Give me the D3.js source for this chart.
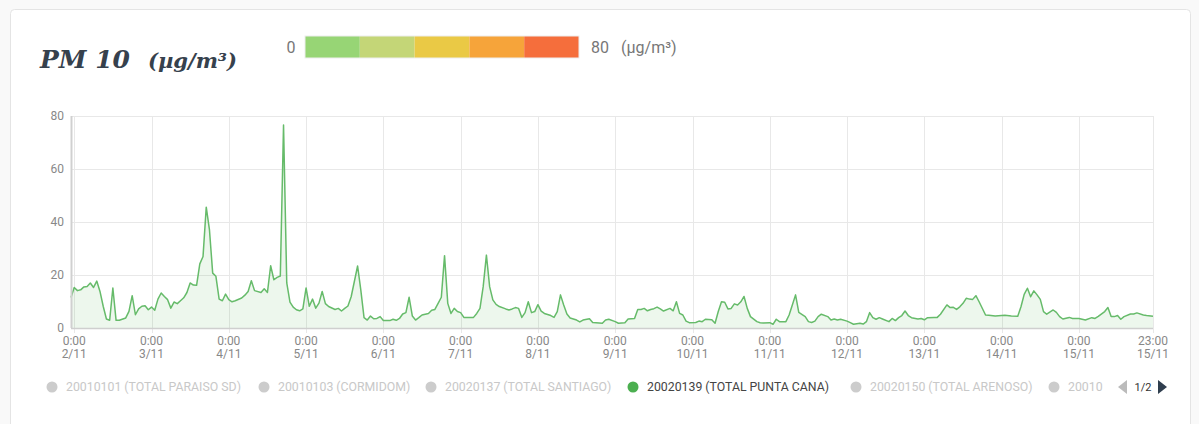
<!DOCTYPE html>
<html>
<head>
<meta charset="utf-8">
<script src="https://cdn.jsdelivr.net/npm/d3@7"></script>
<style>
  body { margin: 0; background: #f9f9f9; font-family: Roboto, "Noto Sans", sans-serif; }
  svg { display: block; }
</style>
</head>
<body>
<script>
// hours counted from 2/11 0:00, hourly PM10 readings of the selected station
var hours = [-1,0,1,2,3,4,5,6,7,8,9,10,11,12,13,14,16,17,18,19,20,21,22,23,24,25,26,27,28,29,30,31,32,33,34,35,36,37,38,39,40,41,42,43,44,45,46,47,48,49,50,52,53,54,55,56,58,59,60,61,62,63,64,65,66,67,68,69,70,71,72,73,74,75,76,77,78,79,81,82,83,84,85,86,88,89,90,91,92,93,94,95,96,98,99,100,101,102,103,104,105,106,107,108,110,111,112,113,114,115,116,117,118,119,120,121,122,124,125,126,127,128,129,130,131,132,134,135,136,137,138,139,140,141,142,143,144,145,146,148,149,150,151,152,153,154,156,157,158,160,161,162,164,165,166,168,169,171,172,174,175,176,177,178,179,180,181,182,183,185,186,187,188,189,190,191,193,194,195,196,198,199,200,201,202,203,204,205,206,207,208,209,210,212,213,214,216,217,218,219,221,222,223,224,225,227,228,229,230,231,232,234,235,236,237,238,240,241,242,244,245,246,247,248,249,250,251,253,254,255,256,257,258,259,260,262,263,264,265,267,268,269,271,272,273,274,275,276,277,278,279,280,281,283,284,286,289,291,293,294,295,296,297,298,299,300,301,302,304,305,306,307,309,310,312,313,314,316,317,318,320,321,322,323,324,325,326,328,329,330,332,333,335];
var pm10 = [11.5,15.3,14.1,14.4,15.5,15.7,17,15.3,17.7,13.8,8.2,3.4,2.9,15.1,2.9,2.9,3.8,6.3,12.2,5,7.2,8.2,8.4,6.9,7.9,6.7,10.9,13.2,11.9,10.7,7.5,9.8,9.2,10.3,11.4,13.4,17,16.2,16.1,24.2,27,45.6,37,20.7,19.5,10.9,10.3,12.8,10.7,9.9,10.3,11.3,12.4,13.8,17.8,14.1,13.4,14.8,13.4,23.5,18.2,19.1,19.6,76.6,17,9.8,7.9,6.9,6.5,7.2,15.1,8.2,10.9,7.5,9.4,13.8,9.2,8.1,7,7.4,6.4,7.4,8.3,11.8,23.4,14.3,3.9,3,4.5,3.5,3.6,4.3,2.8,2.8,3.3,2.9,3.6,5.3,5.8,11.6,4.5,3,3.9,4.9,5.5,6.7,7,9.3,11.6,27.3,9.3,5.5,7.4,6.2,5.8,4,4,4,5.5,7.4,15.6,27.5,15.6,10.6,8.9,8.1,7.2,6.8,7.2,7.7,7.4,4,5.8,9.9,5.8,6.2,8.8,6.4,5.5,4.7,4,6.2,12.5,8.7,5.3,3.8,3,2.3,3,3.5,2.1,2,1.8,3,3.3,2.4,1.8,2,3.4,3.6,7,7,7.4,6.5,7,7.3,7.9,7.2,6.4,7.4,6.5,9.9,5.5,4.9,2.6,2,2.1,2.6,2.4,3.3,3.1,1.8,6.2,9.9,9.7,7.2,7.4,9.1,8.7,9.9,11.9,7.4,4.3,2.4,2,1.9,2,1.4,3.3,2.4,2.4,4.9,8.7,12.5,5.9,4.3,2.4,2.1,2.6,4.3,5.2,4.3,3,3.4,3,3.3,2.6,2,1.4,1.8,1.5,2.4,5.8,3.9,3.3,3.9,3.4,2.4,3.6,2.8,3.9,4.7,6.4,4.7,3.9,3.4,3.6,3.1,3.9,4,4,5.2,8.7,7.7,7.8,7,8,9.3,11.2,10.9,10.8,12.2,9.9,4.9,4.8,4.5,4.8,4.5,4.4,8,12.7,15,11.8,14,12.5,10.8,6.2,5.2,6.8,5.9,4.3,3.4,4,3.6,3.6,3.3,3,3.9,3.6,4.4,6.2,7.7,4.3,4.3,4.7,3.3,4.3,5.3,5.3,5.7,4.9,4.7,4.4];

var yTicks = [0, 20, 40, 60, 80];
var scaleColors = ["#97d575", "#c4d677", "#eac945", "#f6a43a", "#f56e3c"];
var scaleLabels = ["0", "80", "(µg/m³)"];
var stations = ["20010101 (TOTAL PARAISO SD)", "20010103 (CORMIDOM)", "20020137 (TOTAL SANTIAGO)",
  "20020139 (TOTAL PUNTA CANA)", "20020150 (TOTAL ARENOSO)", "20010"];
var activeStation = 3;
var stationX = [52, 264, 431, 633, 856, 1054];

var W = 1199, H = 424;
var margin = {top: 116, left: 71, right: 46, bottom: 96};
var width = W - margin.left - margin.right,
    height = H - margin.top - margin.bottom;

var base = new Date(2019, 10, 2, 0, 0);
var data = hours.map(function(h, i) {
  return {t: d3.timeHour.offset(base, h), v: pm10[i]};
});

var svg = d3.select("body").append("svg")
  .attr("width", W)
  .attr("height", H);

// card
svg.append("rect")
  .attr("x", 10.5).attr("y", 9.5)
  .attr("width", 1180).attr("height", 440)
  .attr("rx", 4)
  .style("fill", "#fff")
  .style("stroke", "#e4e4e4");

// title
var title = svg.append("text")
  .attr("x", 40).attr("y", 68)
  .style("font-family", "'DejaVu Serif', serif")
  .style("font-weight", "bold")
  .style("font-style", "italic")
  .style("fill", "#36414d");
title.append("tspan").style("font-size", "25px").text("PM 10");
title.append("tspan").attr("dx", 18).style("font-size", "21px").text("(µg/m³)");

// colour scale
var seg = d3.scaleBand().domain(d3.range(scaleColors.length)).range([305, 579]);
svg.selectAll(".seg")
  .data(scaleColors)
  .enter().append("rect")
  .attr("class", "seg")
  .attr("x", function(d, i) { return seg(i); })
  .attr("y", 36)
  .attr("width", seg.bandwidth())
  .attr("height", 22)
  .style("fill", function(d) { return d; });
svg.append("rect")
  .attr("x", 305).attr("y", 36).attr("width", 274).attr("height", 22)
  .style("fill", "none").style("stroke", "#eeeeee");
svg.append("text")
  .attr("x", 291).attr("y", 53)
  .style("text-anchor", "middle")
  .style("font-size", "16px").style("fill", "#777")
  .text(scaleLabels[0]);
svg.append("text")
  .attr("x", 591).attr("y", 53)
  .style("font-size", "16px").style("fill", "#777")
  .text(scaleLabels[1]);
svg.append("text")
  .attr("x", 621).attr("y", 53)
  .style("font-size", "16px").style("fill", "#777")
  .text(scaleLabels[2]);

var g = svg.append("g")
  .attr("transform", "translate(" + margin.left + "," + margin.top + ")");

var x = d3.scaleTime()
  .domain([data[0].t, data[data.length - 1].t])
  .range([0, width]);
var y = d3.scaleLinear()
  .domain([0, 80])
  .range([height, 0]);

var xTicks = d3.timeDay.range(d3.timeDay.ceil(x.domain()[0]), x.domain()[1]);
xTicks.push(x.domain()[1]);

// grid
g.selectAll(".hgrid")
  .data(yTicks)
  .enter().append("line")
  .attr("x1", 0).attr("x2", width)
  .attr("y1", function(d) { return y(d) + 0.5; })
  .attr("y2", function(d) { return y(d) + 0.5; })
  .style("stroke", "#e8e8e8");
g.selectAll(".vgrid")
  .data(xTicks)
  .enter().append("line")
  .attr("x1", function(d) { return Math.round(x(d)) + 0.5; })
  .attr("x2", function(d) { return Math.round(x(d)) + 0.5; })
  .attr("y1", 0).attr("y2", height + 5)
  .style("stroke", "#e8e8e8");

// area + line
var area = d3.area()
  .x(function(d) { return x(d.t); })
  .y0(height)
  .y1(function(d) { return y(d.v); });
var line = d3.line()
  .x(function(d) { return x(d.t); })
  .y(function(d) { return y(d.v); });

g.append("path")
  .datum(data)
  .attr("d", area)
  .style("fill", "#4caf50")
  .style("fill-opacity", 0.1);
g.append("path")
  .datum(data)
  .attr("d", line)
  .style("fill", "none")
  .style("stroke", "#66bb6a")
  .style("stroke-width", 1.5)
  .style("stroke-linejoin", "round");

// axis lines
g.append("line")
  .attr("x1", 0.5).attr("x2", 0.5).attr("y1", 0).attr("y2", height)
  .style("stroke", "#d0d0d0").style("stroke-width", 2);
g.append("line")
  .attr("x1", 0).attr("x2", width).attr("y1", height + 0.5).attr("y2", height + 0.5)
  .style("stroke", "#cfcfcf").style("stroke-width", 1.5);

// y labels
g.selectAll(".ylab")
  .data(yTicks)
  .enter().append("text")
  .attr("x", -7)
  .attr("y", function(d) { return y(d); })
  .attr("dy", "0.35em")
  .style("text-anchor", "end")
  .style("font-size", "12px")
  .style("fill", "#888")
  .text(function(d) { return d; });

// x labels
var fmtTime = d3.timeFormat("%-H:%M"), fmtDay = d3.timeFormat("%-d/%-m");
var xl = g.selectAll(".xlab")
  .data(xTicks)
  .enter().append("text")
  .attr("transform", function(d) { return "translate(" + x(d) + "," + (height + 17) + ")"; })
  .style("text-anchor", "middle")
  .style("font-size", "12px")
  .style("fill", "#888");
xl.append("tspan").attr("x", 0).text(function(d) { return fmtTime(d); });
xl.append("tspan").attr("x", 0).attr("dy", 13).text(function(d) { return fmtDay(d); });

// station legend
var leg = svg.selectAll(".leg")
  .data(stations)
  .enter().append("g")
  .attr("transform", function(d, i) { return "translate(" + stationX[i] + ",387)"; });
leg.append("circle")
  .attr("r", 5.5)
  .style("fill", function(d, i) { return i === activeStation ? "#4caf50" : "#cccccc"; });
leg.append("text")
  .attr("x", 14)
  .attr("dy", "0.35em")
  .style("font-size", "12.3px")
  .style("fill", function(d, i) { return i === activeStation ? "#444" : "#c8c8c8"; })
  .text(function(d) { return d; });

// pager
svg.append("path")
  .attr("d", "M1127,380 L1118,387 L1127,394 Z")
  .style("fill", "#bbbbbb");
svg.append("text")
  .attr("x", 1143).attr("y", 387).attr("dy", "0.35em")
  .style("text-anchor", "middle")
  .style("font-size", "11px").style("fill", "#333")
  .text("1/2");
svg.append("path")
  .attr("d", "M1158,380 L1167,387 L1158,394 Z")
  .style("fill", "#2f3e4e");
</script>
</body>
</html>
